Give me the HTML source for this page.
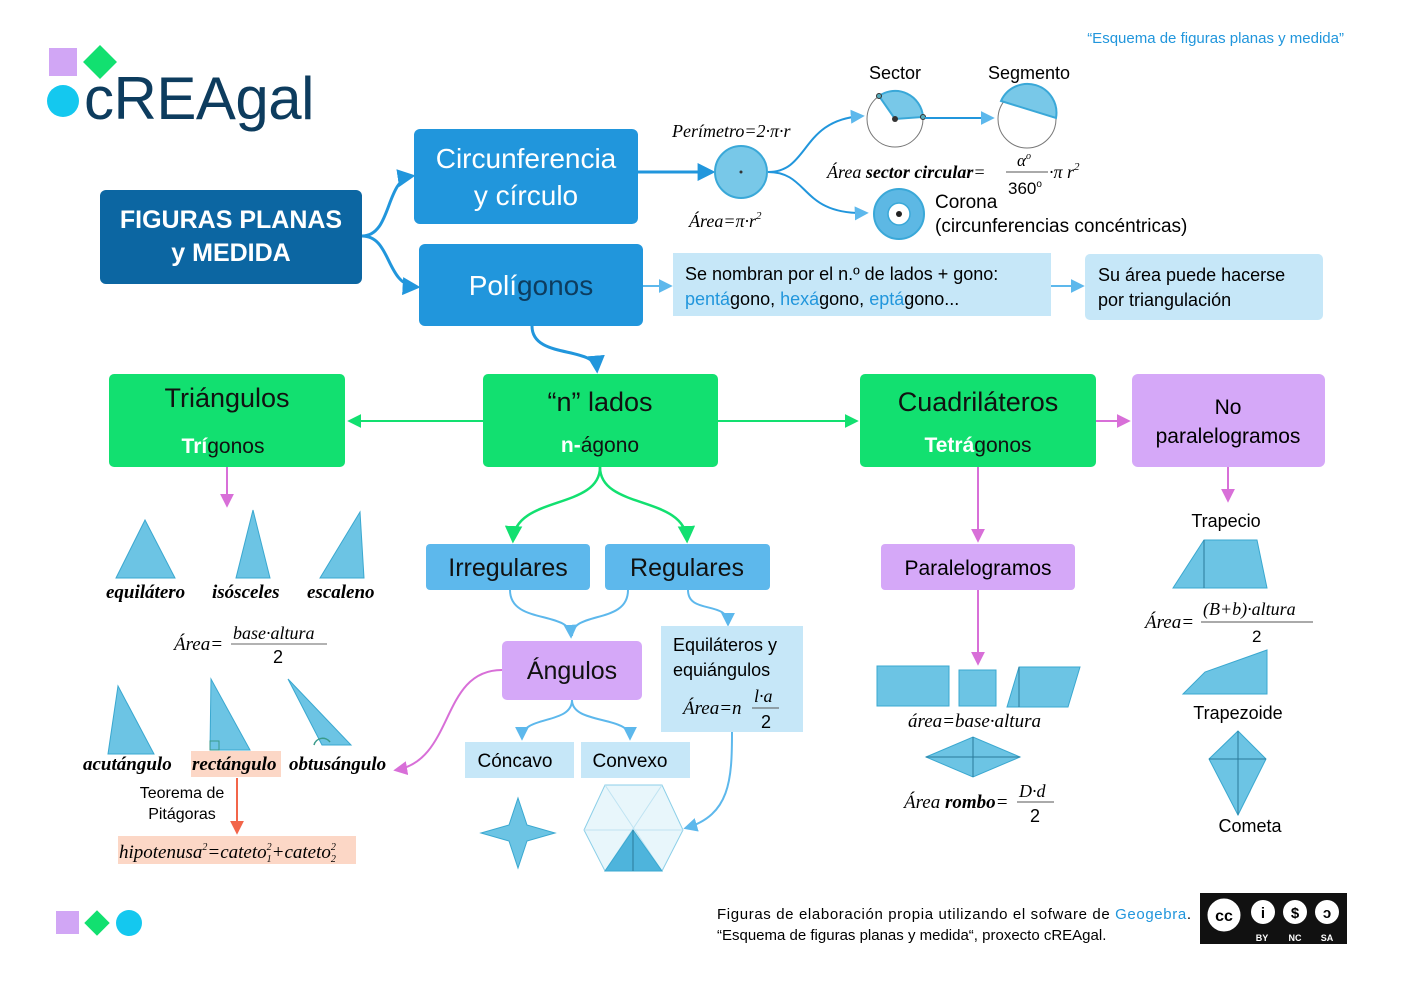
<!DOCTYPE html>
<html><head><meta charset="utf-8"><style>
body{margin:0;background:#fff}
svg{display:block}
text{font-family:"Liberation Sans",sans-serif}
text.m,.m text{font-family:"Liberation Serif",serif;font-style:italic}
</style></head><body>
<svg width="1403" height="992" viewBox="0 0 1403 992" xmlns="http://www.w3.org/2000/svg">
<defs>
<marker id="ab" viewBox="0 0 10 10" refX="8" refY="5" markerWidth="6" markerHeight="6" orient="auto"><path d="M0,0L10,5L0,10z" fill="#2196dc"/></marker>
<marker id="al" viewBox="0 0 10 10" refX="8" refY="5" markerWidth="7" markerHeight="7" orient="auto"><path d="M0,0L10,5L0,10z" fill="#5db8ec"/></marker>
<marker id="ag" viewBox="0 0 10 10" refX="8" refY="5" markerWidth="7" markerHeight="7" orient="auto"><path d="M0,0L10,5L0,10z" fill="#12e070"/></marker>
<marker id="ap" viewBox="0 0 10 10" refX="8" refY="5" markerWidth="7" markerHeight="7" orient="auto"><path d="M0,0L10,5L0,10z" fill="#d86fd8"/></marker>
<marker id="ar" viewBox="0 0 10 10" refX="8" refY="5" markerWidth="7" markerHeight="7" orient="auto"><path d="M0,0L10,5L0,10z" fill="#f2654a"/></marker>
</defs>
<!-- logo -->
<rect x="49" y="48" width="28" height="28" fill="#d1a6f5"/>
<rect x="88" y="50" width="24" height="24" fill="#12e070" transform="rotate(45 100 62)"/>
<circle cx="63" cy="101" r="16" fill="#14c8ef"/>
<text x="84" y="119" font-size="60" fill="#0d3c5e" letter-spacing="-0.5">cREAgal</text>
<text x="1344" y="43" font-size="15" fill="#2196dc" text-anchor="end">“Esquema de figuras planas y medida”</text>

<!-- top boxes -->
<rect x="100" y="190" width="262" height="94" rx="6" fill="#0c66a2"/>
<text x="231" y="228" font-size="25" font-weight="bold" fill="#fff" text-anchor="middle">FIGURAS PLANAS</text>
<text x="231" y="261" font-size="25" font-weight="bold" fill="#fff" text-anchor="middle">y MEDIDA</text>
<rect x="414" y="129" width="224" height="95" rx="6" fill="#2196dc"/>
<text x="526" y="168" font-size="28" fill="#fff" text-anchor="middle">Circunferencia</text>
<text x="526" y="205" font-size="28" fill="#fff" text-anchor="middle">y círculo</text>
<rect x="419" y="244" width="224" height="82" rx="6" fill="#2196dc"/>
<text x="531" y="295" font-size="28" fill="#fff" text-anchor="middle">Polí<tspan fill="#0d3c5e">gonos</tspan></text>
<path d="M362,236 C392,236 385,180 412,176" fill="none" stroke="#2196dc" stroke-width="3" marker-end="url(#ab)"/>
<path d="M362,236 C392,236 385,285 417,287" fill="none" stroke="#2196dc" stroke-width="3" marker-end="url(#ab)"/>
<path d="M638,172 L712,172" stroke="#2196dc" stroke-width="3" marker-end="url(#ab)"/>

<!-- circle section -->
<text x="672" y="137" font-size="18" class="m">Perímetro=2·π·r</text>
<circle cx="741" cy="172" r="26" fill="#78c8e8" stroke="#3aa8d8" stroke-width="2"/>
<circle cx="741" cy="172" r="1.5" fill="#333"/>
<text x="689" y="227" font-size="18" class="m">Área=π·r<tspan font-size="11" dy="-8">2</tspan></text>
<path d="M768,172 C810,172 800,120 862,116" fill="none" stroke="#2196dc" stroke-width="2" marker-end="url(#al)"/>
<path d="M768,172 C810,172 800,215 866,213" fill="none" stroke="#2196dc" stroke-width="2" marker-end="url(#al)"/>
<text x="895" y="79" font-size="18" text-anchor="middle">Sector</text>
<circle cx="895" cy="119" r="28" fill="#fff" stroke="#777"/>
<path d="M895,119 L879,96 A28,28 0 0,1 923,117 Z" fill="#78c8e8" stroke="#3aa8d8" stroke-width="2"/>
<circle cx="895" cy="119" r="3" fill="#333"/><circle cx="879" cy="96" r="2.5" fill="#5ab" stroke="#333"/><circle cx="923" cy="117" r="2.5" fill="#5ab" stroke="#333"/>
<path d="M925,118 L992,118" stroke="#2196dc" stroke-width="2" marker-end="url(#al)"/>
<text x="1029" y="79" font-size="18" text-anchor="middle">Segmento</text>
<circle cx="1027" cy="119" r="29" fill="#fff" stroke="#777"/>
<path d="M1001,101 A29,29 0 0,1 1056,118 Z" fill="#78c8e8" stroke="#3aa8d8" stroke-width="2"/>
<text x="827" y="178" font-size="18" class="m">Área <tspan font-weight="bold">sector circular</tspan>=</text>
<line x1="1006" y1="172" x2="1048" y2="172" stroke="#555"/>
<text x="1017" y="166" font-size="17" class="m">α<tspan font-size="10" dy="-7">o</tspan></text>
<text x="1008" y="194" font-size="17" font-family="Liberation Serif">360<tspan font-size="10" dy="-7">o</tspan></text>
<text x="1049" y="178" font-size="18" class="m">·π r<tspan font-size="11" dy="-8">2</tspan></text>
<circle cx="899" cy="214" r="25" fill="#5db8e4" stroke="#3aa8d8" stroke-width="2"/>
<circle cx="899" cy="214" r="11" fill="#fff" stroke="#3aa8d8" stroke-width="1.5"/>
<circle cx="899" cy="214" r="3" fill="#222"/>
<text x="935" y="208" font-size="19">Corona</text>
<text x="935" y="232" font-size="19">(circunferencias concéntricas)</text>

<!-- polygon notes -->
<path d="M643,286 L670,286" stroke="#5db8ec" stroke-width="2" marker-end="url(#al)"/>
<rect x="673" y="253" width="378" height="63" fill="#c6e7f8"/>
<text x="685" y="280" font-size="18">Se nombran por el n.º de lados + gono:</text>
<text x="685" y="305" font-size="18"><tspan fill="#2196dc">pentá</tspan>gono, <tspan fill="#2196dc">hexá</tspan>gono, <tspan fill="#2196dc">eptá</tspan>gono...</text>
<path d="M1051,286 L1082,286" stroke="#5db8ec" stroke-width="2" marker-end="url(#al)"/>
<rect x="1085" y="254" width="238" height="66" rx="5" fill="#c6e7f8"/>
<text x="1098" y="281" font-size="18">Su área puede hacerse</text>
<text x="1098" y="306" font-size="18">por triangulación</text>
<path d="M532,326 C532,360 595,345 597,370" fill="none" stroke="#2196dc" stroke-width="3" marker-end="url(#ab)"/>

<!-- green row -->
<rect x="109" y="374" width="236" height="93" rx="5" fill="#12e070"/>
<text x="227" y="407" font-size="27" text-anchor="middle" fill="#111">Triángulos</text>
<text x="223" y="453" font-size="21" text-anchor="middle" fill="#111"><tspan fill="#fff" font-weight="bold">Trí</tspan>gonos</text>
<rect x="483" y="374" width="235" height="93" rx="5" fill="#12e070"/>
<text x="600" y="411" font-size="27" text-anchor="middle" fill="#111">“n” lados</text>
<text x="600" y="452" font-size="21" text-anchor="middle" fill="#111"><tspan fill="#fff" font-weight="bold">n-</tspan>ágono</text>
<rect x="860" y="374" width="236" height="93" rx="5" fill="#12e070"/>
<text x="978" y="411" font-size="27" text-anchor="middle" fill="#111">Cuadriláteros</text>
<text x="978" y="452" font-size="21" text-anchor="middle" fill="#111"><tspan fill="#fff" font-weight="bold">Tetrá</tspan>gonos</text>
<rect x="1132" y="374" width="193" height="93" rx="6" fill="#d5a8f8"/>
<text x="1228" y="414" font-size="21" text-anchor="middle">No</text>
<text x="1228" y="443" font-size="21" text-anchor="middle">paralelogramos</text>
<path d="M483,421 L350,421" stroke="#12e070" stroke-width="2" marker-end="url(#ag)"/>
<path d="M718,421 L856,421" stroke="#12e070" stroke-width="2" marker-end="url(#ag)"/>
<path d="M1096,421 L1128,421" stroke="#d86fd8" stroke-width="2" marker-end="url(#ap)"/>

<!-- triangles -->
<path d="M227,467 L227,505" stroke="#d86fd8" stroke-width="2" marker-end="url(#ap)"/>
<g fill="#6cc4e4" stroke="#3aa8d0" stroke-width="1">
<path d="M116,578 L145,520 L175,578Z"/>
<path d="M236,578 L253,510 L270,578Z"/>
<path d="M320,578 L360,512 L364,578Z"/>
<path d="M108,754 L118,686 L154,754Z"/>
<path d="M210,750 L211,679 L250,750Z"/>
<path d="M288,679 L351,745 L322,745Z"/>
</g>
<rect x="210" y="741" width="9" height="9" fill="none" stroke="#3a9a8a"/>
<path d="M314,745 A9,9 0 0,1 330,742" fill="none" stroke="#3a9a8a" stroke-width="1.5"/>
<rect x="191" y="751" width="90" height="26" fill="#fcd7c6"/>
<g class="m" font-size="19" font-weight="bold">
<text x="106" y="598">equilátero</text><text x="212" y="598">isósceles</text><text x="307" y="598">escaleno</text>
<text x="83" y="770">acutángulo</text>
<text x="192" y="770">rectángulo</text><text x="289" y="770">obtusángulo</text>
</g>
<text x="174" y="650" font-size="19" class="m">Área=</text>
<line x1="231" y1="644" x2="327" y2="644" stroke="#666"/>
<text x="233" y="639" font-size="18" class="m">base·altura</text>
<text x="273" y="663" font-size="18" font-family="Liberation Serif">2</text>
<text x="182" y="798" font-size="16" text-anchor="middle">Teorema de</text>
<text x="182" y="819" font-size="16" text-anchor="middle">Pitágoras</text>
<path d="M237,778 L237,832" stroke="#f2654a" stroke-width="2" marker-end="url(#ar)"/>
<rect x="118" y="836" width="238" height="28" fill="#fcd7c6"/>
<text x="119" y="858" font-size="19" class="m">hipotenusa<tspan font-size="10" dy="-8">2</tspan><tspan dy="8">=cateto</tspan><tspan font-size="10" dy="-8">2</tspan><tspan font-size="10" dx="-5" dy="12">1</tspan><tspan dy="-4">+cateto</tspan><tspan font-size="10" dy="-8">2</tspan><tspan font-size="10" dx="-5" dy="12">2</tspan></text>

<!-- center -->
<path d="M600,467 C600,510 515,495 513,540" fill="none" stroke="#12e070" stroke-width="2.5" marker-end="url(#ag)"/>
<path d="M600,467 C600,510 685,495 687,540" fill="none" stroke="#12e070" stroke-width="2.5" marker-end="url(#ag)"/>
<rect x="426" y="544" width="164" height="46" rx="4" fill="#5db8ec"/>
<text x="508" y="576" font-size="25" text-anchor="middle" fill="#111">Irregulares</text>
<rect x="605" y="544" width="165" height="46" rx="4" fill="#5db8ec"/>
<text x="687" y="576" font-size="25" text-anchor="middle" fill="#111">Regulares</text>
<path d="M510,590 C510,625 570,610 571,636" fill="none" stroke="#5db8ec" stroke-width="2" marker-end="url(#al)"/>
<path d="M628,590 C628,625 572,610 572,636" fill="none" stroke="#5db8ec" stroke-width="2"/>
<path d="M688,590 C688,615 728,600 728,624" fill="none" stroke="#5db8ec" stroke-width="2" marker-end="url(#al)"/>
<rect x="502" y="641" width="140" height="59" rx="5" fill="#d5a8f8"/>
<text x="572" y="679" font-size="25" text-anchor="middle" fill="#111">Ángulos</text>
<path d="M502,670 C440,670 455,760 396,770" fill="none" stroke="#d86fd8" stroke-width="2" marker-end="url(#ap)"/>
<rect x="661" y="626" width="142" height="106" fill="#c6e7f8"/>
<text x="673" y="651" font-size="18">Equiláteros y</text>
<text x="673" y="676" font-size="18">equiángulos</text>
<text x="683" y="714" font-size="19" class="m">Área=n</text>
<line x1="752" y1="708" x2="779" y2="708" stroke="#555"/>
<text x="754" y="702" font-size="18" class="m">l·a</text>
<text x="761" y="728" font-size="18" font-family="Liberation Serif">2</text>
<path d="M572,700 C572,725 522,715 522,738" fill="none" stroke="#5db8ec" stroke-width="2" marker-end="url(#al)"/>
<path d="M572,700 C572,725 630,715 630,738" fill="none" stroke="#5db8ec" stroke-width="2" marker-end="url(#al)"/>
<rect x="465" y="742" width="109" height="36" fill="#c6e7f8"/>
<text x="515" y="767" font-size="19" text-anchor="middle">Cóncavo</text>
<rect x="581" y="742" width="109" height="36" fill="#c6e7f8"/>
<text x="630" y="767" font-size="19" text-anchor="middle">Convexo</text>
<path d="M732,732 C732,780 730,815 686,828" fill="none" stroke="#5db8ec" stroke-width="2" marker-end="url(#al)"/>
<path d="M518,798 L527,825 L555,833 L527,841 L518,868 L509,841 L481,833 L509,825Z" fill="#6cc4e4" stroke="#3aa8d0"/>
<path d="M605,785 L662,785 L683,830 L662,871 L605,871 L584,830Z" fill="#e8f6fb" stroke="#8ccfe8"/>
<path d="M605,785 L662,871 M662,785 L605,871 M584,830 L683,830" stroke="#bfe3f2"/>
<path d="M633,830 L605,871 L662,871Z" fill="#4eb4dc" stroke="#3aa8d0"/>
<line x1="633" y1="830" x2="633" y2="871" stroke="#2a7a9a"/>

<!-- right column -->
<path d="M978,467 L978,540" stroke="#d86fd8" stroke-width="2" marker-end="url(#ap)"/>
<rect x="881" y="544" width="194" height="46" rx="4" fill="#d5a8f8"/>
<text x="978" y="575" font-size="21" text-anchor="middle">Paralelogramos</text>
<path d="M978,590 L978,663" stroke="#d86fd8" stroke-width="2" marker-end="url(#ap)"/>
<g fill="#6cc4e4" stroke="#3aa8d0">
<rect x="877" y="666" width="72" height="40"/>
<rect x="959" y="670" width="37" height="36"/>
<path d="M1007,707 L1019,667 L1080,667 L1068,707Z"/>
<path d="M926,757 L973,737 L1020,757 L973,777Z"/>
<path d="M1173,588 L1204,540 L1257,540 L1267,588Z"/>
<path d="M1183,694 L1205,672 L1267,650 L1267,694Z"/>
<path d="M1238,731 L1266,759 L1238,815 L1209,759Z"/>
</g>
<path d="M1019,667 L1019,707 M926,757 L1020,757 M973,737 L973,777 M1204,540 L1204,588 M1209,759 L1266,759 M1238,731 L1238,815" stroke="#2a7a9a"/>
<text x="908" y="727" font-size="19" class="m">área=base·altura</text>
<text x="904" y="808" font-size="19" class="m">Área <tspan font-weight="bold">rombo</tspan>=</text>
<line x1="1017" y1="802" x2="1054" y2="802" stroke="#555"/>
<text x="1019" y="797" font-size="18" class="m">D·d</text>
<text x="1030" y="822" font-size="18" font-family="Liberation Serif">2</text>
<path d="M1228,467 L1228,500" stroke="#d86fd8" stroke-width="2" marker-end="url(#ap)"/>
<text x="1226" y="527" font-size="18" text-anchor="middle">Trapecio</text>
<text x="1145" y="628" font-size="19" class="m">Área=</text>
<line x1="1201" y1="622" x2="1313" y2="622" stroke="#555"/>
<text x="1203" y="615" font-size="18" class="m">(B+b)·altura</text>
<text x="1252" y="642" font-size="17">2</text>
<text x="1238" y="719" font-size="18" text-anchor="middle">Trapezoide</text>
<text x="1250" y="832" font-size="18" text-anchor="middle">Cometa</text>

<!-- footer -->
<rect x="56" y="911" width="23" height="23" fill="#d1a6f5"/>
<rect x="88" y="914" width="18" height="18" fill="#12e070" transform="rotate(45 97 923)"/>
<circle cx="129" cy="923" r="13" fill="#14c8ef"/>
<text x="717" y="919" font-size="15" textLength="474">Figuras de elaboración propia utilizando el sofware de <tspan fill="#2196dc">Geogebra</tspan>.</text>
<text x="717" y="940" font-size="15">“Esquema de figuras planas y medida“, proxecto cREAgal.</text>
<rect x="1200" y="893" width="147" height="51" fill="#111"/>
<circle cx="1224" cy="915" r="18" fill="#fff" stroke="#111" stroke-width="3"/>
<text x="1224" y="921" font-size="16" font-weight="bold" text-anchor="middle">cc</text>
<circle cx="1263" cy="912" r="12" fill="#fff"/><circle cx="1295" cy="912" r="12" fill="#fff"/><circle cx="1327" cy="912" r="12" fill="#fff"/>
<text x="1263" y="918" font-size="15" font-weight="bold" text-anchor="middle">i</text>
<text x="1295" y="918" font-size="15" font-weight="bold" text-anchor="middle">$</text>
<text x="1327" y="918" font-size="15" font-weight="bold" text-anchor="middle">ↄ</text>
<text x="1262" y="941" font-size="9" fill="#fff" font-weight="bold" text-anchor="middle">BY</text>
<text x="1295" y="941" font-size="9" fill="#fff" font-weight="bold" text-anchor="middle">NC</text>
<text x="1327" y="941" font-size="9" fill="#fff" font-weight="bold" text-anchor="middle">SA</text>
</svg>
</body></html>
